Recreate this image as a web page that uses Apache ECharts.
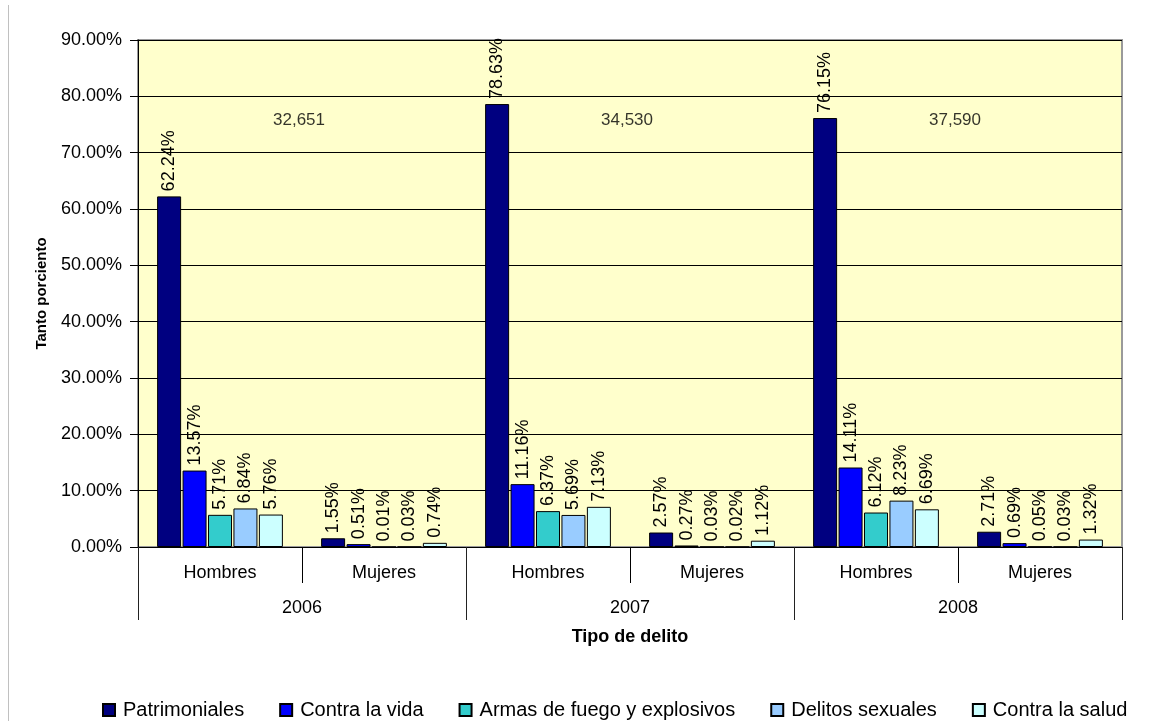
<!DOCTYPE html>
<html>
<head>
<meta charset="utf-8">
<script src="https://cdn.jsdelivr.net/npm/echarts@6/dist/echarts.min.js"></script>
<style>
  html, body { margin: 0; padding: 0; background: #fff; }
  #chart { width: 1168px; height: 721px; }
</style>
</head>
<body>
<div id="chart"></div>
<script>
// Category pairs (sex within year) and the year groups below them
const sexLabels = ['Hombres', 'Mujeres', 'Hombres', 'Mujeres', 'Hombres', 'Mujeres'];
const years = ['2006', '2007', '2008'];
const yearTotals = [32651, 34530, 37590];

// Share of each crime type, in percent, per category above
const patrimoniales = [62.24, 1.55, 78.63, 2.57, 76.15, 2.71];
const contraLaVida = [13.57, 0.51, 11.16, 0.27, 14.11, 0.69];
const armasFuego = [5.71, 0.01, 6.37, 0.03, 6.12, 0.05];
const delitosSexuales = [6.84, 0.03, 5.69, 0.02, 8.23, 0.03];
const contraLaSalud = [5.76, 0.74, 7.13, 1.12, 6.69, 1.32];

const seriesNames = ['Patrimoniales', 'Contra la vida', 'Armas de fuego y explosivos', 'Delitos sexuales', 'Contra la salud'];
const seriesData = [patrimoniales, contraLaVida, armasFuego, delitosSexuales, contraLaSalud];
const seriesColors = ['#000080', '#0000FF', '#33CCCC', '#99CCFF', '#CCFFFF'];

// Height (in axis units) where the yearly totals are written
const TOTAL_LABEL_LEVEL = 75.8;

const FONT = "'Liberation Sans', Arial, sans-serif";
const chart = echarts.init(document.getElementById('chart'), null, { renderer: 'canvas' });

const barSeries = seriesNames.map((name, i) => ({
  name: name,
  type: 'bar',
  xAxisIndex: 0,
  data: seriesData[i],
  barWidth: 24,
  barGap: '6%',
  itemStyle: { color: seriesColors[i], borderColor: '#000', borderWidth: 1 },
  label: {
    show: true,
    position: 'top',
    rotate: 90,
    align: 'left',
    verticalAlign: 'middle',
    distance: 5,
    fontFamily: FONT,
    fontSize: 18,
    color: '#000',
    formatter: p => p.value.toFixed(2) + '%'
  },
  emphasis: { disabled: true }
}));

const totalsSeries = {
  name: 'totales',
  type: 'scatter',
  xAxisIndex: 1,
  data: yearTotals.map((t, i) => [years[i], TOTAL_LABEL_LEVEL, t]),
  symbol: 'circle',
  symbolSize: 1,
  itemStyle: { color: 'rgba(0,0,0,0)' },
  label: {
    show: true,
    position: 'inside',
    offset: [-3, 0],
    fontFamily: FONT,
    fontSize: 17,
    color: '#000',
    formatter: p => p.value[2].toLocaleString('en-US')
  },
  silent: true,
  emphasis: { disabled: true }
};

chart.setOption({
  animation: false,
  backgroundColor: '#fff',
  textStyle: { fontFamily: FONT },
  grid: {
    left: 138, right: 46, top: 40, bottom: 174,
    show: true,
    backgroundColor: '#FFFFCC',
    borderColor: '#9a9a9a',
    borderWidth: 2
  },
  legend: {
    data: seriesNames,
    left: 102,
    top: 700,
    padding: 0,
    icon: 'rect',
    itemWidth: 12,
    itemHeight: 12,
    itemGap: 35,
    textStyle: { fontFamily: FONT, fontSize: 20, color: '#000', padding: [0, 0, 0, 3] }
  },
  xAxis: [
    {
      type: 'category',
      data: sexLabels,
      position: 'bottom',
      axisLine: { show: true, lineStyle: { color: '#000', width: 1 } },
      axisTick: { show: true, length: 36, lineStyle: { color: '#000' } },
      axisLabel: { fontFamily: FONT, fontSize: 18, color: '#000', margin: 17 },
      name: 'Tipo de delito',
      nameLocation: 'middle',
      nameGap: 81,
      nameTextStyle: { fontFamily: FONT, fontSize: 18, fontWeight: 'bold', color: '#000' }
    },
    {
      type: 'category',
      data: years,
      position: 'bottom',
      axisLine: { show: false },
      axisTick: { show: true, length: 73, lineStyle: { color: '#222' } },
      axisLabel: { fontFamily: FONT, fontSize: 18, color: '#000', margin: 52 },
      splitLine: { show: false }
    }
  ],
  yAxis: {
    type: 'value',
    min: 0,
    max: 90,
    interval: 10,
    axisLine: { show: true, lineStyle: { color: '#000', width: 1 } },
    axisTick: { show: true, length: 8, lineStyle: { color: '#000' } },
    axisLabel: {
      fontFamily: FONT, fontSize: 18, color: '#000', margin: 16,
      formatter: v => v.toFixed(2) + '%'
    },
    splitLine: { show: true, lineStyle: { color: '#000', width: 1 } },
    name: 'Tanto porciento',
    nameLocation: 'middle',
    nameGap: 89,
    nameTextStyle: { fontFamily: FONT, fontSize: 15, fontWeight: 'bold', color: '#000' }
  },
  graphic: [
    {
      type: 'line',
      shape: { x1: 8.5, y1: 5, x2: 8.5, y2: 721 },
      style: { stroke: '#c0c0c0', lineWidth: 1 },
      silent: true
    }
  ],
  series: barSeries.concat([totalsSeries])
});
</script>
</body>
</html>
